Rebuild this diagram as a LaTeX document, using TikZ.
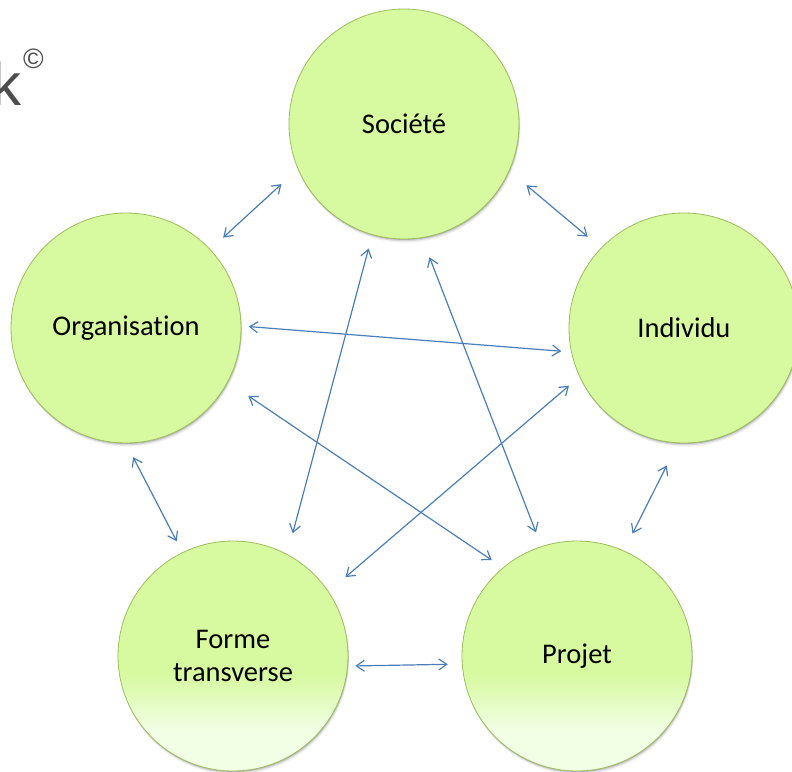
\documentclass[tikz,border=0pt]{standalone}
\usepackage{fontspec}
\setmainfont{Carlito}[Ligatures=NoCommon]
\newfontfamily\logofont{Liberation Sans}
\usetikzlibrary{arrows.meta,shadows}

\definecolor{discfill}{HTML}{D7FAA0}
\definecolor{discline}{HTML}{9DBE5C}
\definecolor{fadefill}{HTML}{F1FFE4}
\definecolor{linkblue}{HTML}{4A7EBB}
\definecolor{logogray}{HTML}{4D4D4D}

% light green that fades out towards the bottom of the lower discs
\pgfdeclareverticalshading{discfade}{100bp}{color(0bp)=(fadefill); color(34bp)=(fadefill); color(46bp)=(discfill); color(100bp)=(discfill)}

\tikzset{
  disc/.style={circle, minimum size=230pt, inner sep=0pt, draw=discline,
    line width=0.8pt, fill=discfill, align=center,
    font=\fontsize{28.5}{33}\selectfont,
    drop shadow={shadow xshift=0.4pt, shadow yshift=-1pt, opacity=.16, fill=black},
    drop shadow={shadow xshift=0.8pt, shadow yshift=-2.2pt, opacity=.10, fill=black},
    drop shadow={shadow xshift=1.2pt, shadow yshift=-3.6pt, opacity=.06, fill=black}},
  fadedisc/.style={disc, fill=none, shading=discfade},
  link/.style={draw=linkblue, line width=1.2pt, <->,
    >={Straight Barb[length=8pt,width=11pt]}},
  logo/.style={inner sep=0pt, anchor=base west, text=logogray}
}

\begin{document}
\begin{tikzpicture}[x=1pt, y=-1pt]
  \useasboundingbox (0,0) rectangle (792,771);
  \fill[white] (0,0) rectangle (792,771);
  \clip (0,0) rectangle (792,771);

  % partly visible logo in the top left corner
  \node[logo, font=\logofont\fontsize{60}{60}\selectfont] (logok) at (-8.5,105) {k};
  \node[logo, font=\logofont\fontsize{28}{28}\selectfont] (logoc) at (23,68) {©};

  % the five discs
  \node[disc]     (soc) at (404,124) {Société};
  \node[disc]     (org) at (126,328) {Organisation};
  \node[disc]     (ind) at (684,328) {Individu};
  \node[fadedisc] (frm) at (233,656) {Forme\\transverse};
  \node[fadedisc] (prj) at (577,656) {Projet};

  % two-way links between every pair of discs
  \draw[link, shorten <=22.2pt, shorten >=17.3pt] (soc.203.8) -- (org.43.9);
  \draw[link, shorten <=22.2pt, shorten >=17.3pt] (soc.336.2) -- (ind.136.1);
  \draw[link, shorten <=7.4pt,  shorten >=9.9pt]  (org.1.8)   -- (ind.192);
  \draw[link, shorten <=24.6pt, shorten >=13.3pt] (org.332.5) -- (prj.130.2);
  \draw[link, shorten <=14pt,   shorten >=21.5pt] (soc.254.4) -- (frm.62.8);
  \draw[link, shorten <=20.7pt, shorten >=14.8pt] (soc.279.9) -- (prj.108.8);
  \draw[link, shorten <=13.7pt, shorten >=22.1pt] (ind.205.9) -- (frm.34.2);
  \draw[link, shorten <=15.4pt, shorten >=12.4pt] (org.270.1) -- (frm.116.1);
  \draw[link, shorten <=24.9pt, shorten >=19pt]   (ind.267.6) -- (prj.66.1);
  \draw[link, shorten <=7.4pt,  shorten >=14.1pt] (frm.355.2) -- (prj.184.8);
\end{tikzpicture}
\end{document}
